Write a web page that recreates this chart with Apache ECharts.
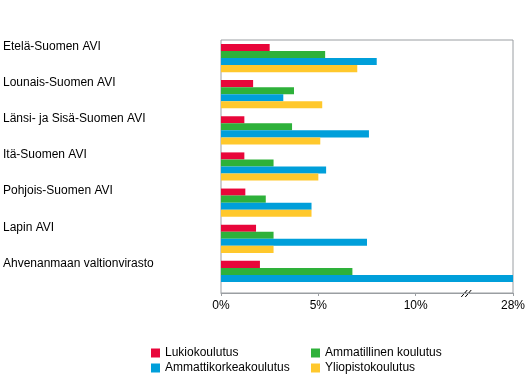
<!DOCTYPE html>
<html>
<head>
<meta charset="utf-8">
<script src="https://cdn.jsdelivr.net/npm/echarts@6/dist/echarts.min.js"></script>
<style>html,body{margin:0;padding:0;background:#fff}#c{width:530px;height:378px}</style>
</head>
<body>
<div id="c"></div>
<script>
const categories = ['Etelä-Suomen AVI','Lounais-Suomen AVI','Länsi- ja Sisä-Suomen AVI','Itä-Suomen AVI','Pohjois-Suomen AVI','Lapin AVI','Ahvenanmaan valtionvirasto'];
const lukio = [2.5, 1.65, 1.2, 1.2, 1.25, 1.8, 2.0];
const ammatillinen = [5.35, 3.75, 3.65, 2.7, 2.3, 2.7, 6.75];
const amk = [8.0, 3.2, 7.6, 5.4, 4.65, 7.5, 28];
const yliopisto = [7.0, 5.2, 5.1, 5.0, 4.65, 2.7, null];
const seriesNames = ['Lukiokoulutus', 'Ammatillinen koulutus', 'Ammattikorkeakoulutus', 'Yliopistokoulutus'];
const tickLabels = {0:'0%', 5:'5%', 10:'10%', 15:'28%'};
const axisMax = 15;
const breakAt = 12.65;
const toAxis = v => (v == null ? null : (v > axisMax ? axisMax : v));

const font = 'Arial, "Liberation Sans", sans-serif';
const colors = ['#e8063a', '#2eb13a', '#009fda', '#ffc82c'];
const chart = echarts.init(document.getElementById('c'));
const mk = (arr, i) => ({
  name: seriesNames[i], type: 'bar', data: arr.map(toAxis), barGap: '0%', barCategoryGap: '22%',
  itemStyle: {color: colors[i]}
});
const legendPos = [[151, 347], [311, 347], [151, 362], [311, 362]];
chart.setOption({
  animation: false,
  color: colors,
  grid: {left: 221, right: 17, top: 40, bottom: 85, show: true, borderColor: '#9a9ea2', borderWidth: 1},
  xAxis: {
    type: 'value', min: 0, max: axisMax, interval: 5,
    axisLine: {show: true, lineStyle: {color: '#9a9ea2'}},
    axisTick: {show: true, length: 3, lineStyle: {color: '#9a9ea2'}},
    splitLine: {show: false},
    axisLabel: {formatter: v => tickLabels[v] || '', color: '#000', fontFamily: font, fontSize: 12, margin: 7}
  },
  yAxis: {
    type: 'category', data: categories, inverse: true,
    axisLine: {show: false}, axisTick: {show: false},
    axisLabel: {align: 'left', margin: 218, color: '#000', fontFamily: font, fontSize: 12, lineHeight: 23,
      interval: 0, showMinLabel: true, showMaxLabel: true, hideOverlap: false,
      formatter: v => v + '\n '}
  },
  legend: seriesNames.map((n, i) => ({
    data: [n], left: legendPos[i][0], top: legendPos[i][1], itemWidth: 9, itemHeight: 9, icon: 'rect',
    padding: 0, textStyle: {color: '#000', fontFamily: font, fontSize: 12}, itemStyle: {borderWidth: 0}
  })),
  series: [mk(lukio, 0), mk(ammatillinen, 1), mk(amk, 2), mk(yliopisto, 3)]
});
const bx = chart.convertToPixel({gridIndex: 0}, [breakAt, 0]);
const gy = chart.getModel().getComponent('grid', 0).coordinateSystem.getRect();
const by = gy.y + gy.height;
chart.setOption({graphic: [
  {type: 'line', shape: {x1: bx[0]-6, y1: by+4, x2: bx[0], y2: by-3}, style: {stroke: '#000', lineWidth: 1}},
  {type: 'line', shape: {x1: bx[0]-2, y1: by+4, x2: bx[0]+4, y2: by-3}, style: {stroke: '#000', lineWidth: 1}}
]});
</script>
</body>
</html>
